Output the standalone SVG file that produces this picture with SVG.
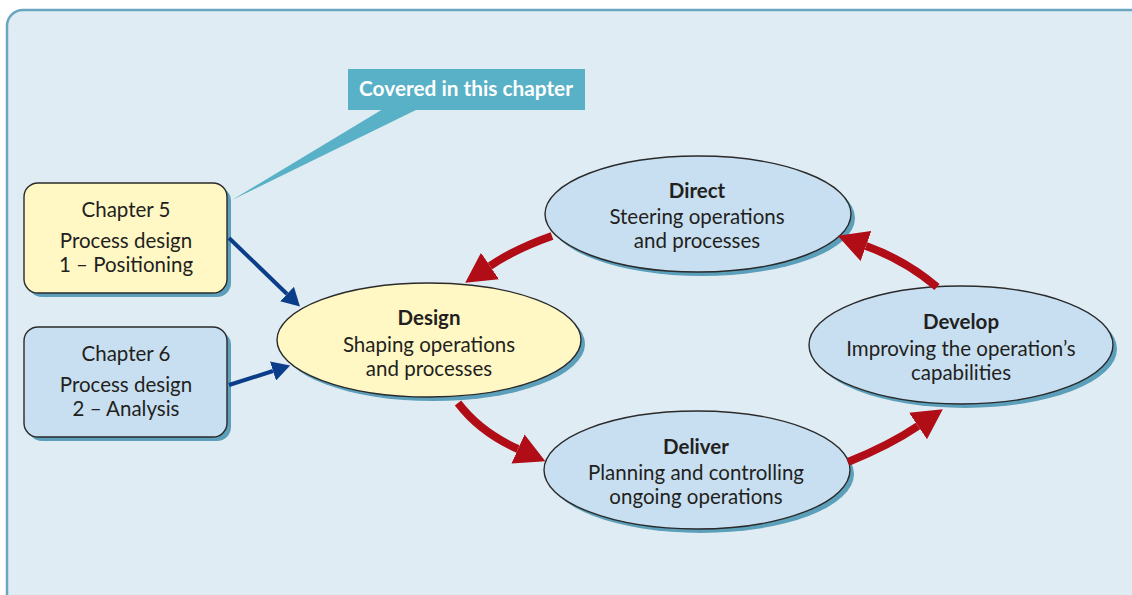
<svg xmlns="http://www.w3.org/2000/svg" width="1132" height="595" viewBox="0 0 1132 595">
<defs>
<style>
.t{font-family:Lato,"Open Sans","Liberation Sans",sans-serif;font-size:20.5px;fill:#231f20;text-anchor:middle}
.b{font-weight:bold}
.shadow{fill:#5b9fba}
.yel{fill:#fff8c5;stroke:#2a2a2a;stroke-width:1.4}
.blu{fill:#c8dff2;stroke:#2a2a2a;stroke-width:1.4}
.red{fill:none;stroke:#b00d17;stroke-width:8}
.navy{fill:none;stroke:#0c3d8a;stroke-width:4}
</style>
<marker id="rh" markerUnits="userSpaceOnUse" markerWidth="30" markerHeight="32" viewBox="0 0 30 32" refX="0" refY="16" orient="auto"><path d="M0,0 L30,16 L0,32 z" fill="#b00d17"/></marker>
<marker id="bh" markerUnits="userSpaceOnUse" markerWidth="18" markerHeight="20" viewBox="0 0 18 20" refX="0" refY="10" orient="auto"><path d="M0,0 L18,10 L0,20 z" fill="#0c3d8a"/></marker>
</defs>
<rect x="7" y="10" width="1140" height="600" rx="16" fill="#e0ecf3" stroke="#6aa6c0" stroke-width="2.5"/>

<g id="callout">
<polygon points="383,109 418,109 232,200" fill="#58b1c6"/>
<rect x="348" y="69" width="237" height="41" fill="#58b1c6"/>
<text x="466" y="96" style="font-family:Lato,'Open Sans','Liberation Sans',sans-serif;font-size:20.8px;font-weight:bold;fill:#ffffff;text-anchor:middle">Covered in this chapter</text>
</g>

<g id="chapter5">
<rect x="28" y="187" width="203" height="110" rx="14" class="shadow"/>
<rect x="24" y="183" width="203" height="110" rx="14" class="yel"/>
<text class="t" x="126" y="217">Chapter 5</text>
<text class="t" x="126" y="248">Process design</text>
<text class="t" x="126" y="272">1 – Positioning</text>
</g>

<g id="chapter6">
<rect x="28" y="331" width="203" height="110" rx="14" class="shadow"/>
<rect x="24" y="327" width="203" height="110" rx="14" class="blu"/>
<text class="t" x="126" y="361">Chapter 6</text>
<text class="t" x="126" y="392">Process design</text>
<text class="t" x="126" y="416">2 – Analysis</text>
</g>

<g id="design">
<ellipse cx="433" cy="344" rx="152" ry="57" class="shadow"/>
<ellipse cx="429" cy="340" rx="152" ry="57" class="yel"/>
<text class="t b" x="429" y="325">Design</text>
<text class="t" x="429" y="352">Shaping operations</text>
<text class="t" x="429" y="376">and processes</text>
</g>

<g id="direct">
<ellipse cx="702" cy="218" rx="153" ry="58" class="shadow"/>
<ellipse cx="698" cy="214" rx="153" ry="58" class="blu"/>
<text class="t b" x="697" y="198">Direct</text>
<text class="t" x="697" y="224">Steering operations</text>
<text class="t" x="697" y="248">and processes</text>
</g>

<g id="develop">
<ellipse cx="965" cy="349" rx="152" ry="59" class="shadow"/>
<ellipse cx="961" cy="345" rx="152" ry="59" class="blu"/>
<text class="t b" x="961" y="329">Develop</text>
<text class="t" x="961" y="356">Improving the operation’s</text>
<text class="t" x="961" y="380">capabilities</text>
</g>

<g id="deliver">
<ellipse cx="701" cy="474" rx="153" ry="59" class="shadow"/>
<ellipse cx="697" cy="470" rx="153" ry="59" class="blu"/>
<text class="t b" x="696" y="454">Deliver</text>
<text class="t" x="696" y="480">Planning and controlling</text>
<text class="t" x="696" y="504">ongoing operations</text>
</g>

<g id="connectors">
<line x1="229" y1="238" x2="287" y2="294" class="navy" marker-end="url(#bh)"/>
<line x1="229" y1="385" x2="273" y2="371" class="navy" marker-end="url(#bh)"/>
<path d="M552,236 Q515,249 490,266" class="red" marker-end="url(#rh)"/>
<path d="M458,403 Q480,432 518,449" class="red" marker-end="url(#rh)"/>
<path d="M848,462 Q890,445 918,426" class="red" marker-end="url(#rh)"/>
<path d="M937,287 Q905,260 866,246" class="red" marker-end="url(#rh)"/>
</g>
</svg>
